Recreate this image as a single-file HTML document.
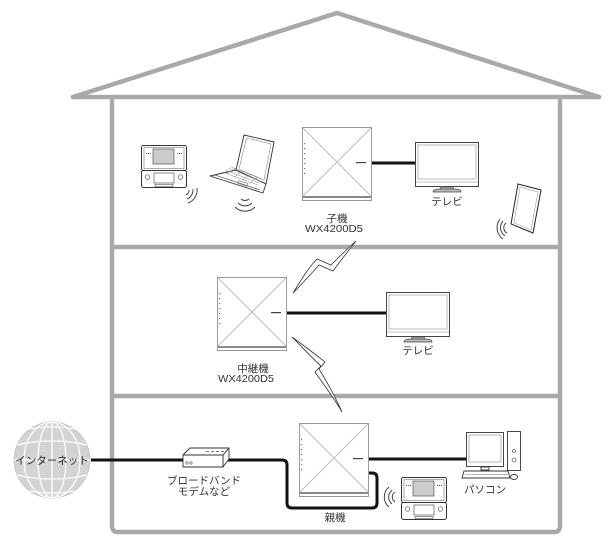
<!DOCTYPE html>
<html><head><meta charset="utf-8"><style>
html,body{margin:0;padding:0;background:#fff;}
svg{display:block;}
text{font-family:"Liberation Sans","Noto Sans CJK JP",sans-serif;font-size:10.5px;fill:#333;}
</style></head><body>
<svg width="613" height="548" viewBox="0 0 613 548" xmlns="http://www.w3.org/2000/svg">
<defs>
<clipPath id="gc"><circle cx="52" cy="460" r="38"/></clipPath>
<g id="router">
  <rect x="0.5" y="0.5" width="69" height="73" fill="#fff" stroke="#9a9a9a" stroke-width="1"/>
  <line x1="1" y1="1" x2="69" y2="69" stroke="#bdbdbd" stroke-width="1"/>
  <line x1="1" y1="69" x2="69" y2="1" stroke="#bdbdbd" stroke-width="1"/>
  <rect x="1" y="69" width="68" height="2" fill="#8a8a8a"/>
  <g fill="#777">
    <rect x="2" y="16" width="1.2" height="1.2"/><rect x="2" y="21" width="1.2" height="1.2"/>
    <rect x="2" y="26" width="1.2" height="1.2"/><rect x="2" y="31" width="1.2" height="1.2"/>
    <rect x="2" y="36" width="1.2" height="1.2"/><rect x="2" y="41" width="1.2" height="1.2"/>
    <rect x="2" y="46" width="1.2" height="1.2"/>
  </g>
  <rect x="54" y="35" width="10" height="1.2" fill="#444"/>
</g>
<g id="tv">
  <rect x="0.5" y="0.5" width="63" height="44" fill="#fff" stroke="#444" stroke-width="1"/>
  <rect x="3" y="3" width="58" height="34" fill="#fff" stroke="#aaa" stroke-width="0.8"/>
  <line x1="1" y1="40" x2="63" y2="40" stroke="#aaa" stroke-width="0.8"/>
  <path d="M26,45 L38,45 L39,48 L25,48 Z" fill="#bbb" stroke="#444" stroke-width="0.7"/>
  <path d="M18,50 Q18,47 25,47 L39,47 Q46,47 46,50 Z" fill="#bbb" stroke="#444" stroke-width="0.7"/>
</g>
<g id="ds">
  <rect x="0.5" y="0.5" width="45" height="25" rx="2" fill="#fff" stroke="#333" stroke-width="1"/>
  <rect x="3" y="2.5" width="40" height="21" fill="none" stroke="#777" stroke-width="0.6"/>
  <rect x="12" y="4" width="21" height="15" fill="#ccc" stroke="#555" stroke-width="0.7"/>
  <g fill="#555"><rect x="5" y="8" width="1" height="1"/><rect x="7" y="8" width="1" height="1"/><rect x="9" y="8" width="1" height="1"/>
  <rect x="36" y="8" width="1" height="1"/><rect x="38" y="8" width="1" height="1"/><rect x="40" y="8" width="1" height="1"/></g>
  <rect x="0.5" y="25.5" width="45" height="17" rx="2" fill="#fff" stroke="#333" stroke-width="1"/>
  <rect x="13" y="28" width="20" height="10" fill="#fff" stroke="#555" stroke-width="0.7"/>
  <circle cx="6.5" cy="32" r="2.3" fill="none" stroke="#555" stroke-width="0.7"/>
  <circle cx="39.5" cy="32" r="2.3" fill="none" stroke="#555" stroke-width="0.7"/>
  <rect x="14" y="39.5" width="18" height="2" fill="none" stroke="#555" stroke-width="0.6"/>
</g>
</defs>

<!-- house -->
<polyline points="73,97 337,13 599,97" fill="none" stroke="#a9a9a9" stroke-width="4.5" stroke-linejoin="round" stroke-linecap="round"/>
<line x1="73" y1="97" x2="599" y2="97" stroke="#a9a9a9" stroke-width="4.5" stroke-linecap="round"/>
<path d="M112,97 V526 Q112,532 118,532 H554 Q560,532 560,526 V97" fill="none" stroke="#a9a9a9" stroke-width="4.5"/>
<line x1="112" y1="247" x2="560" y2="247" stroke="#a9a9a9" stroke-width="4.5"/>
<line x1="112" y1="396" x2="560" y2="396" stroke="#a9a9a9" stroke-width="4.5"/>

<!-- cables -->
<line x1="372" y1="163" x2="415" y2="163" stroke="#111" stroke-width="3"/>
<line x1="286" y1="313" x2="386" y2="313" stroke="#111" stroke-width="3"/>
<line x1="368" y1="459" x2="466" y2="459" stroke="#111" stroke-width="3"/>
<path d="M91,460 H282 Q287,460 287,465 V503 Q287,508 292,508 H372 Q377,508 377,503 V478 Q377,473 372,473 H366" fill="none" stroke="#111" stroke-width="3"/>

<!-- lightning bolts -->
<path d="M293,293 C300,282 308,268 317,259 L331,265 C339,257 347,249 356,241 C349,250 341,260 333,271 L319,265 C311,274 302,284 293,293 Z" fill="#fff" stroke="#333" stroke-width="0.8" stroke-linejoin="miter"/>
<path d="M292,337 C303,345 315,354 325,362 L319,369 C327,382 335,396 342,412 C334,398 324,385 315,372 L321,366 C311,357 301,346 292,337 Z" fill="#fff" stroke="#333" stroke-width="0.8"/>

<!-- routers -->
<use href="#router" x="302" y="127"/>
<use href="#router" x="217" y="277"/>
<use href="#router" x="299" y="423"/>

<!-- TVs -->
<use href="#tv" x="415" y="142"/>
<use href="#tv" x="386" y="292"/>

<!-- DS devices -->
<use href="#ds" x="141" y="145"/>
<use href="#ds" x="401" y="477"/>

<!-- laptop -->
<g stroke="#333" stroke-width="0.9" fill="#fff" stroke-linejoin="round">
  <path d="M244,135 L274,142 L266,184 L236,170 Z"/>
  <path d="M246.5,138 L271,144 L264,180 L239,169 Z" fill="none" stroke="#888" stroke-width="0.6"/>
  <path d="M236,170 L266,184 L263,193 L210,176 Z"/>
  <path d="M215,175 L260,190" stroke="#333" stroke-width="0.6"/>
</g>
<g stroke="#888" stroke-width="0.5">
  <line x1="222" y1="172" x2="258" y2="185"/>
  <line x1="225" y1="170" x2="259" y2="183"/>
  <line x1="228" y1="168" x2="260" y2="181"/>
  <line x1="231" y1="167" x2="261" y2="179"/>
  <line x1="226" y1="174" x2="236" y2="168"/>
  <line x1="234" y1="177" x2="243" y2="171"/>
  <line x1="242" y1="180" x2="251" y2="174"/>
  <line x1="250" y1="183" x2="258" y2="177"/>
</g>
<rect x="238" y="182" width="10" height="3" fill="none" stroke="#666" stroke-width="0.5" transform="rotate(18 243 183)"/>

<!-- tablet -->
<path d="M518,184 L541,190 L533,233 L511,224 Z" fill="#fff" stroke="#222" stroke-width="1"/>
<path d="M520,187 L538,192 L531,230 L514,223 Z" fill="none" stroke="#999" stroke-width="0.6"/>

<!-- waves -->
<g fill="none" stroke="#444" stroke-width="1">
  <path d="M189,190 A6,6 0 0 1 186,195"/>
  <path d="M193,189 A10,10 0 0 1 187,199"/>
  <path d="M197,188 A14,14 0 0 1 188,203"/>
  <path d="M241,199 A6,6 0 0 0 249,199"/>
  <path d="M238,203 A10,10 0 0 0 252,203"/>
  <path d="M235,207 A14,14 0 0 0 255,207"/>
  <path d="M506,223 A6,6 0 0 0 507,233"/>
  <path d="M503,221 A10,10 0 0 0 505,236"/>
  <path d="M500,219 A14,14 0 0 0 503,239"/>
  <path d="M395,492 A6,6 0 0 0 395,502"/>
  <path d="M392,490 A9,9 0 0 0 392,504"/>
  <path d="M389,487 A13,13 0 0 0 389,507"/>
</g>

<!-- PC -->
<g stroke="#333" stroke-width="0.9" fill="#fff">
  <rect x="466.5" y="432.5" width="37" height="34"/>
  <rect x="469" y="435" width="32" height="27" stroke="#888" stroke-width="0.6"/>
  <rect x="507.5" y="431.5" width="13" height="39"/>
  <circle cx="514" cy="451" r="1.5" stroke-width="0.6"/>
  <circle cx="514" cy="460" r="2" stroke-width="0.6"/>
  <rect x="481" y="467" width="8" height="3"/>
  <path d="M464,471 L508,471 L510,478 L462,478 Z"/>
  <ellipse cx="514" cy="477" rx="3.5" ry="2.5"/>
</g>
<g stroke="#777" stroke-width="0.5"><line x1="465" y1="474.5" x2="508" y2="474.5"/></g>

<!-- modem -->
<g stroke="#333" stroke-width="0.9" fill="#fff" stroke-linejoin="round">
  <path d="M183,455 L190,448 L229,448 L223,455 Z"/>
  <path d="M223,455 L229,448 L229,459 L223,467 Z"/>
  <rect x="183" y="455" width="40" height="12"/>
</g>
<g stroke="#555" stroke-width="0.8">
  <line x1="206" y1="451.5" x2="209" y2="451.5"/><line x1="211" y1="451.5" x2="214" y2="451.5"/>
  <line x1="216" y1="451.5" x2="219" y2="451.5"/><line x1="221" y1="451.5" x2="224" y2="451.5"/>
</g>
<circle cx="187" cy="463" r="1.2" fill="none" stroke="#555" stroke-width="0.6"/>
<circle cx="191" cy="463" r="1.2" fill="none" stroke="#555" stroke-width="0.6"/>

<!-- globe -->
<circle cx="52" cy="460" r="38" fill="#d3d3d3" stroke="#c4c4c4" stroke-width="1"/>
<g clip-path="url(#gc)" fill="none" stroke="#fff" stroke-width="1.3">
  <line x1="52" y1="420" x2="52" y2="500"/>
  <ellipse cx="52" cy="460" rx="14" ry="38"/>
  <ellipse cx="52" cy="460" rx="28" ry="38"/>
  <path d="M12,446 Q52,436 92,446"/>
  <path d="M12,474 Q52,484 92,474"/>
  <path d="M16,432 Q52,422 88,432"/>
  <path d="M16,488 Q52,498 88,488"/>
  <line x1="12" y1="460" x2="92" y2="460"/>
</g>
<text x="52" y="464" text-anchor="middle" style="fill:#222">インターネット</text>

<!-- labels -->
<text x="337" y="222" text-anchor="middle">子機</text>
<text x="334" y="232" text-anchor="middle" textLength="58" lengthAdjust="spacingAndGlyphs">WX4200D5</text>
<text x="447" y="205" text-anchor="middle">テレビ</text>
<text x="253" y="372" text-anchor="middle">中継機</text>
<text x="246" y="382" text-anchor="middle" textLength="56" lengthAdjust="spacingAndGlyphs">WX4200D5</text>
<text x="418" y="354" text-anchor="middle">テレビ</text>
<text x="204" y="484" text-anchor="middle">ブロードバンド</text>
<text x="204" y="495" text-anchor="middle">モデムなど</text>
<text x="335" y="521" text-anchor="middle">親機</text>
<text x="485" y="493" text-anchor="middle">パソコン</text>
</svg>
</body></html>
